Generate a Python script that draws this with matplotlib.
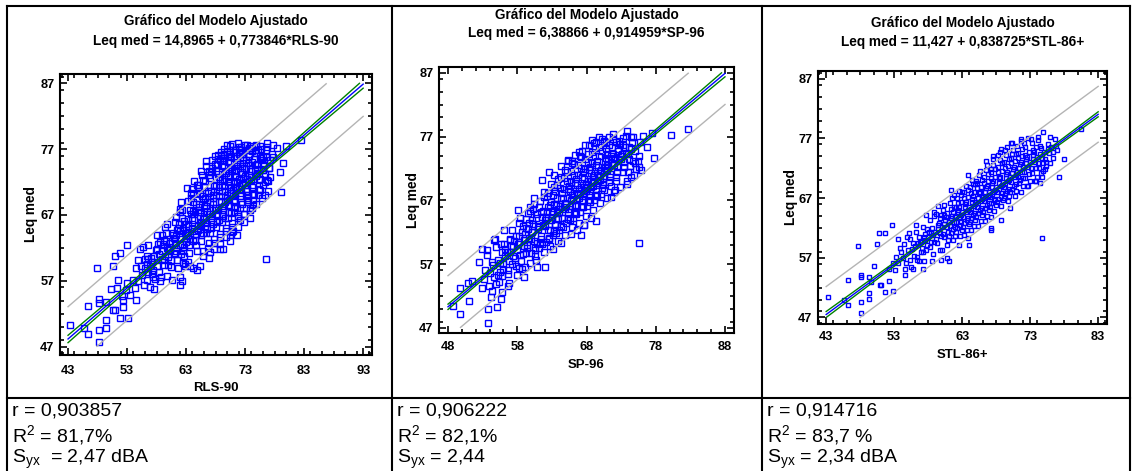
import numpy as np
import matplotlib
matplotlib.use('Agg')
import matplotlib.pyplot as plt
from matplotlib.lines import Line2D
from matplotlib.ticker import MultipleLocator

plt.rcParams['font.family'] = ['Liberation Sans', 'DejaVu Sans']
plt.rcParams['mathtext.fontset'] = 'custom'
plt.rcParams['mathtext.rm'] = 'Liberation Sans'
plt.rcParams['mathtext.it'] = 'Liberation Sans:italic'
plt.rcParams['mathtext.bf'] = 'Liberation Sans:bold'

# ---------------- data ----------------
titles = ["Leq med = 14,8965 + 0,773846*RLS-90",
          "Leq med = 6,38866 + 0,914959*SP-96",
          "Leq med = 11,427 + 0,838725*STL-86+"]
xlabels = ["RLS-90", "SP-96", "STL-86+"]
ylabel = "Leq med"
intercepts = [14.8965, 6.38866, 11.427]
slopes = [0.773846, 0.914959, 0.838725]
pred_halfwidth = [4.9, 4.88, 4.68]
conf_halfwidth_mid = [0.15, 0.15, 0.15]
conf_halfwidth_end = [0.62, 0.55, 0.5]
x_ticks = [[43, 53, 63, 73, 83, 93], [48, 58, 68, 78, 88], [43, 53, 63, 73, 83]]
y_ticks = [47, 57, 67, 77, 87]
stats_r = ["r = 0,903857", "r = 0,906222", "r = 0,914716"]
stats_R2 = [r"R$^{\mathregular{2}}$ = 81,7%", r"R$^{\mathregular{2}}$ = 82,1%", r"R$^{\mathregular{2}}$ = 83,7 %"]
stats_S = [r"S$_{\mathregular{yx}}$  = 2,47 dBA", r"S$_{\mathregular{yx}}$ = 2,44", r"S$_{\mathregular{yx}}$ = 2,34 dBA"]

rls90_leq = [
    (43.4, 50.3), (45.7, 49.8), (46.4, 49.0), (46.4, 53.2), (47.9, 58.9), (48.2, 54.2), (48.2, 53.7),
    (48.2, 49.6), (48.2, 47.7), (49.4, 53.8), (49.4, 51.1), (49.4, 49.9), (50.2, 55.7), (50.6, 59.2),
    (50.6, 52.5), (51.0, 52.5), (51.0, 60.8), (51.3, 55.9), (51.5, 57.2), (51.8, 61.2), (51.8, 51.4),
    (53.2, 51.4), (52.3, 53.1), (52.3, 54.1), (52.2, 54.7), (53.0, 62.4), (53.0, 56.6), (52.9, 55.6),
    (53.5, 54.8), (54.5, 54.1), (54.3, 55.9), (54.0, 57.1), (54.6, 58.9), (54.9, 60.2), (55.2, 61.9),
    (55.7, 62.2), (56.6, 62.4), (56.3, 60.7), (56.9, 59.2), (57.4, 57.6), (58.0, 64.0), (58.9, 64.0),
    (59.3, 63.2), (59.7, 65.7), (60.3, 62.7), (61.1, 66.0), (62.0, 67.5), (62.4, 64.7), (62.4, 59.7),
    (62.0, 57.6), (62.0, 56.4), (62.3, 56.9), (62.8, 59.2), (63.4, 59.9), (64.0, 70.9), (64.1, 58.9),
    (65.4, 59.2), (65.9, 60.7), (67.1, 61.4), (68.8, 61.9), (69.2, 61.8), (70.5, 63.0), (70.5, 64.0),
    (71.0, 64.5), (72.2, 66.2), (74.4, 68.5), (76.4, 70.0), (79.0, 70.5), (76.5, 60.3),
    (65.3, 70.2), (68.8, 75.3), (69.5, 75.3), (70.5, 75.1), (71.9, 76.3), (72.5, 76.6), (73.6, 77.1),
    (74.2, 76.7), (74.9, 77.4), (75.6, 77.5), (76.7, 78.0), (77.7, 77.6), (78.4, 77.1), (80.0, 77.4),
    (82.4, 78.4), (79.4, 74.9), (78.9, 73.5), (77.0, 74.1), (76.1, 75.8), (77.8, 75.8), (76.7, 72.3),
    (56.1, 58.9), (56.4, 57.1), (56.6, 60.3), (56.9, 56.0), (56.3, 59.6),
    (57.2, 58.1), (57.5, 60.8), (57.8, 57.3), (57.3, 59.9), (57.9, 61.7), (57.6, 55.8),
    (58.1, 59.2), (58.4, 61.0), (58.7, 57.6), (58.2, 62.6), (58.9, 60.3), (58.5, 56.9),
    (59.0, 61.5), (59.3, 59.4), (59.6, 63.1), (59.8, 57.8), (59.2, 60.2), (59.7, 62.0), (59.4, 65.1),
    (60.0, 60.6), (60.3, 62.8), (60.5, 59.1), (60.8, 64.2), (60.2, 61.7), (60.6, 57.2), (60.9, 63.5),
    (61.1, 61.3), (61.3, 63.9), (61.5, 60.2), (61.8, 65.6), (61.2, 62.8), (61.6, 58.9), (61.9, 67.9), (61.4, 64.7),
    (62.0, 63.4), (62.2, 61.1), (62.5, 65.0), (62.8, 59.6), (62.3, 66.5), (62.6, 62.2), (62.9, 64.2), (62.1, 69.0), (62.7, 60.8),
    (63.0, 62.9), (63.3, 65.4), (63.5, 61.3), (63.8, 67.2), (63.1, 64.3), (63.6, 59.3), (63.9, 69.6), (63.4, 66.4), (63.7, 63.4), (63.2, 71.1),
    (64.0, 65.0), (64.2, 63.0), (64.5, 67.5), (64.8, 61.5), (64.1, 68.9), (64.6, 64.1), (64.9, 70.3), (64.3, 66.3), (64.7, 62.4), (64.4, 72.2), (64.8, 58.6),
    (65.0, 64.7), (65.3, 66.9), (65.5, 63.0), (65.8, 69.4), (65.1, 71.5), (65.6, 65.8), (65.9, 61.6), (65.2, 68.2), (65.7, 73.0), (65.4, 67.5), (65.8, 64.3),
    (66.0, 66.6), (66.3, 64.2), (66.5, 69.0), (66.8, 62.7), (66.1, 71.3), (66.6, 67.6), (66.9, 73.6), (66.2, 65.4), (66.7, 70.4), (66.4, 74.5), (66.8, 60.4), (66.3, 68.3),
    (67.0, 67.1), (67.3, 65.0), (67.5, 70.0), (67.8, 63.4), (67.1, 72.6), (67.6, 68.7), (67.9, 74.8), (67.2, 66.2), (67.7, 71.4), (67.4, 75.4), (67.8, 61.9), (67.5, 69.5), (67.0, 64.2),
    (68.0, 68.0), (68.3, 66.0), (68.5, 71.2), (68.8, 64.1), (68.1, 73.7), (68.6, 69.9), (68.9, 75.9), (68.2, 67.0), (68.7, 72.5), (68.4, 76.1), (68.8, 62.6), (68.5, 70.6), (68.1, 65.2), (68.3, 74.6),
    (69.0, 69.0), (69.3, 66.9), (69.5, 72.1), (69.8, 65.0), (69.1, 74.4), (69.6, 70.6), (69.9, 76.5), (69.2, 67.8), (69.7, 73.3), (69.4, 77.0), (69.8, 63.6), (69.5, 71.4), (69.1, 65.9), (69.3, 75.2), (69.6, 68.9),
    (70.0, 69.6), (70.3, 67.5), (70.5, 72.8), (70.8, 65.8), (70.1, 75.0), (70.6, 71.2), (70.9, 76.9), (70.2, 68.5), (70.7, 74.0), (70.4, 77.5), (70.8, 64.4), (70.5, 70.3), (70.1, 66.6), (70.3, 73.6), (70.6, 75.8),
    (71.0, 70.4), (71.3, 68.2), (71.5, 73.6), (71.8, 66.5), (71.1, 75.7), (71.6, 72.0), (71.9, 77.3), (71.2, 69.3), (71.7, 74.7), (71.4, 76.5), (71.8, 65.2), (71.5, 71.1), (71.1, 67.4), (71.3, 72.8), (71.6, 63.9),
    (72.0, 71.0), (72.3, 68.9), (72.5, 74.2), (72.8, 67.2), (72.1, 76.3), (72.6, 72.6), (72.9, 77.6), (72.2, 69.9), (72.7, 75.4), (72.4, 73.5), (72.8, 65.9), (72.5, 71.8), (72.1, 68.0), (72.3, 76.9),
    (73.0, 71.6), (73.3, 69.6), (73.5, 74.9), (73.8, 67.8), (73.1, 76.8), (73.6, 73.1), (73.9, 77.4), (73.2, 70.6), (73.7, 75.9), (73.4, 72.4), (73.8, 66.6), (73.5, 68.9), (73.1, 74.0),
    (74.0, 72.3), (74.3, 70.2), (74.5, 75.5), (74.8, 68.6), (74.1, 77.1), (74.6, 73.8), (74.9, 76.4), (74.2, 71.3), (74.7, 74.6), (74.4, 69.2), (74.8, 72.9),
    (75.0, 73.2), (75.3, 71.0), (75.5, 76.0), (75.8, 69.5), (75.1, 74.7), (75.6, 72.4), (75.9, 75.3), (75.2, 70.0), (75.7, 77.0),
    (76.0, 73.8), (76.3, 72.0), (76.5, 75.8), (76.8, 70.6), (76.2, 74.9), (76.6, 76.9), (76.1, 71.5),
    (77.0, 74.1), (77.3, 72.7), (77.6, 76.2), (77.2, 75.3),
    (60.15, 62.2), (60.45, 60.1), (60.75, 63.9), (60.95, 61.0),
    (61.05, 63.3), (61.35, 61.6), (61.65, 65.0), (61.95, 62.5), (61.25, 66.7),
    (62.05, 64.6), (62.35, 62.6), (62.65, 66.1), (62.95, 63.5), (62.25, 67.8), (62.55, 61.5),
    (63.05, 65.6), (63.35, 63.9), (63.65, 67.8), (63.95, 64.8), (63.25, 69.1), (63.55, 62.5), (63.85, 70.4),
    (64.05, 66.6), (64.35, 64.6), (64.65, 68.6), (64.95, 65.5), (64.25, 70.2), (64.55, 63.2), (64.85, 71.5), (64.15, 67.6),
    (65.05, 67.4), (65.35, 65.3), (65.65, 69.9), (65.95, 66.4), (65.25, 71.1), (65.55, 64.0), (65.85, 72.3), (65.15, 68.6), (65.45, 73.6),
    (66.05, 68.0), (66.35, 66.0), (66.65, 70.6), (66.95, 67.2), (66.25, 72.2), (66.55, 64.8), (66.85, 73.0), (66.15, 69.5), (66.45, 75.2), (66.75, 62.0),
    (67.05, 69.0), (67.35, 66.8), (67.65, 71.6), (67.95, 68.0), (67.25, 73.5), (67.55, 65.6), (67.85, 76.0), (67.15, 70.6), (67.45, 74.1), (67.75, 62.8),
    (68.05, 70.0), (68.35, 67.7), (68.65, 72.8), (68.95, 69.1), (68.25, 74.8), (68.55, 66.3), (68.85, 76.6), (68.15, 71.6), (68.45, 75.5), (68.75, 63.6), (68.35, 73.2),
    (69.05, 70.7), (69.35, 68.4), (69.65, 73.7), (69.95, 70.0), (69.25, 75.6), (69.55, 66.5), (69.85, 77.6), (69.15, 72.5), (69.45, 76.2), (69.75, 64.6), (69.35, 74.4), (69.05, 67.2),
    (70.05, 71.5), (70.35, 69.2), (70.65, 74.3), (70.95, 70.8), (70.25, 76.3), (70.55, 67.3), (70.85, 77.8), (70.15, 73.1), (70.45, 76.0), (70.75, 65.2), (70.35, 72.0), (70.05, 68.3),
    (71.05, 72.1), (71.35, 70.0), (71.65, 75.0), (71.95, 71.4), (71.25, 76.9), (71.55, 68.0), (71.85, 77.9), (71.15, 73.9), (71.45, 74.4), (71.75, 66.8), (71.35, 71.3), (71.05, 69.0),
    (72.05, 72.5), (72.35, 70.3), (72.65, 75.8), (72.95, 72.0), (72.25, 77.3), (72.55, 68.6), (72.85, 74.1), (72.15, 74.8), (72.45, 76.2), (72.75, 67.1), (72.35, 73.2),
    (73.05, 72.9), (73.35, 71.0), (73.65, 76.3), (73.95, 72.8), (73.25, 77.6), (73.55, 69.3), (73.85, 74.6), (73.15, 75.3), (73.45, 70.1), (73.75, 68.0),
    (74.05, 73.6), (74.35, 71.6), (74.65, 76.8), (74.95, 73.4), (74.25, 75.0), (74.55, 70.0), (74.85, 77.6), (74.15, 68.0),
    (75.05, 74.0), (75.35, 72.3), (75.65, 75.6), (75.95, 73.9), (75.25, 76.8), (75.55, 70.8),
    (76.05, 74.6), (76.35, 73.2), (76.65, 77.3), (76.95, 72.2),
    (57.05, 60.4), (57.45, 58.6), (58.05, 61.9), (58.35, 58.4), (58.65, 62.9), (59.05, 62.6), (59.35, 60.7),
    (59.65, 64.2), (59.95, 59.4), (56.55, 58.4), (56.05, 60.3), (55.55, 57.9), (55.35, 59.3), (54.85, 57.0), (55.85, 56.3),
]

sp96_leq = [
    (48.7, 50.4), (49.7, 53.2), (49.7, 49.2), (50.9, 54.1), (51.0, 51.2), (51.5, 54.4), (52.5, 57.4),
    (52.9, 59.4), (52.9, 53.2), (53.2, 54.7), (53.4, 56.1), (53.7, 59.2), (53.8, 49.9), (53.8, 47.8),
    (53.9, 53.5), (54.3, 52.8), (54.5, 56.8), (54.6, 60.8), (54.8, 61.0), (55.1, 50.2), (55.6, 51.5),
    (55.8, 52.6), (55.8, 55.2), (56.1, 62.4), (56.6, 56.0), (56.8, 54.1), (56.9, 60.8), (58.1, 65.5),
    (59.0, 55.0), (58.3, 56.4), (60.8, 56.5), (62.0, 56.5), (63.1, 59.4), (64.3, 60.3), (67.2, 61.5),
    (67.6, 63.1), (69.3, 63.7), (75.6, 60.3), (61.6, 70.2), (60.4, 67.4), (59.9, 66.0),
    (62.6, 71.4), (65.4, 73.1), (65.9, 73.2), (67.1, 73.9), (69.1, 76.0), (70.5, 76.3), (71.8, 77.4),
    (73.9, 77.9), (74.4, 77.0), (76.1, 77.1), (77.4, 77.6), (80.2, 77.2), (82.6, 78.2), (77.8, 73.6),
    (76.8, 75.3), (75.8, 71.7), (75.6, 72.2),
    (54.1, 55.6), (54.4, 57.3), (54.9, 53.9), (53.6, 58.5), (54.2, 51.9), (55.0, 59.7),
    (55.2, 57.6), (55.5, 55.8), (55.8, 58.9), (55.3, 54.2), (55.7, 60.2),
    (56.0, 57.0), (56.3, 59.4), (56.6, 55.5), (56.9, 61.0), (56.2, 58.3), (56.7, 53.6),
    (57.0, 58.9), (57.3, 57.0), (57.6, 60.7), (57.9, 55.3), (57.2, 62.3), (57.7, 58.0), (57.4, 59.8),
    (58.0, 59.2), (58.3, 61.4), (58.6, 57.5), (58.9, 63.0), (58.2, 60.4), (58.7, 56.2), (58.4, 64.2), (58.8, 58.6),
    (59.0, 60.8), (59.3, 58.7), (59.6, 62.5), (59.9, 57.1), (59.2, 64.0), (59.7, 61.1), (59.4, 59.5), (59.8, 65.3), (59.1, 56.6),
    (60.0, 61.0), (60.3, 63.3), (60.6, 59.2), (60.9, 64.9), (60.2, 62.0), (60.7, 57.6), (60.4, 66.4), (60.8, 60.3), (60.1, 63.9), (60.5, 58.3),
    (61.0, 62.5), (61.3, 60.3), (61.6, 64.4), (61.9, 58.9), (61.2, 66.0), (61.7, 63.1), (61.4, 61.4), (61.8, 67.5), (61.1, 59.6), (61.5, 65.2),
    (62.0, 63.0), (62.3, 65.2), (62.6, 61.1), (62.9, 66.8), (62.2, 64.2), (62.7, 59.8), (62.4, 68.2), (62.8, 62.4), (62.1, 60.5), (62.5, 66.0), (62.9, 63.9),
    (63.0, 64.4), (63.3, 62.2), (63.6, 66.3), (63.9, 60.7), (63.2, 67.9), (63.7, 65.0), (63.4, 63.3), (63.8, 69.4), (63.1, 61.5), (63.5, 68.5), (63.9, 64.1), (63.3, 71.0),
    (64.0, 65.1), (64.3, 63.0), (64.6, 67.4), (64.9, 61.6), (64.2, 69.0), (64.7, 66.0), (64.4, 64.2), (64.8, 70.5), (64.1, 62.3), (64.5, 68.2), (64.9, 65.6), (64.3, 72.4),
    (65.0, 66.4), (65.3, 64.1), (65.6, 68.5), (65.9, 62.8), (65.2, 70.1), (65.7, 67.0), (65.4, 65.2), (65.8, 71.6), (65.1, 63.4), (65.5, 69.3), (65.9, 66.1), (65.3, 73.3), (65.7, 61.7),
    (66.0, 67.0), (66.3, 65.0), (66.6, 69.4), (66.9, 63.5), (66.2, 71.0), (66.7, 68.0), (66.4, 66.1), (66.8, 72.6), (66.1, 64.2), (66.5, 70.4), (66.9, 67.3), (66.3, 74.1), (66.6, 62.4),
    (67.0, 68.0), (67.3, 66.0), (67.6, 70.3), (67.9, 64.5), (67.2, 72.0), (67.7, 69.1), (67.4, 67.0), (67.8, 73.5), (67.1, 65.1), (67.5, 71.4), (67.9, 68.4), (67.3, 74.8), (67.6, 63.2),
    (68.0, 69.0), (68.3, 67.0), (68.6, 71.3), (68.9, 65.5), (68.2, 73.0), (68.7, 70.0), (68.4, 67.8), (68.8, 74.5), (68.1, 66.1), (68.5, 72.2), (68.9, 69.3), (68.3, 75.6), (68.6, 64.3),
    (69.0, 69.8), (69.3, 67.9), (69.6, 72.3), (69.9, 66.6), (69.2, 74.0), (69.7, 71.0), (69.4, 68.8), (69.8, 75.3), (69.1, 67.1), (69.5, 73.2), (69.9, 70.2), (69.3, 76.2),
    (70.0, 70.8), (70.3, 68.9), (70.6, 73.1), (70.9, 67.4), (70.2, 74.8), (70.7, 72.0), (70.4, 69.8), (70.8, 76.1), (70.1, 68.0), (70.5, 71.4), (70.9, 74.2),
    (71.0, 71.7), (71.3, 69.8), (71.6, 74.0), (71.9, 68.3), (71.2, 75.6), (71.7, 72.8), (71.4, 70.6), (71.8, 76.6), (71.1, 73.4), (71.5, 67.5),
    (72.0, 72.5), (72.3, 70.6), (72.6, 74.8), (72.9, 69.1), (72.2, 76.2), (72.7, 73.4), (72.4, 71.5), (72.8, 75.8), (72.1, 68.6),
    (73.0, 73.4), (73.3, 71.5), (73.6, 75.4), (73.9, 70.0), (73.2, 76.8), (73.7, 74.3), (73.4, 72.2), (73.8, 69.6),
    (74.0, 74.2), (74.3, 72.4), (74.6, 76.1), (74.9, 71.0), (74.2, 75.3), (74.7, 73.1), (74.4, 70.6),
    (75.0, 74.8), (75.4, 73.2), (75.7, 76.2), (75.2, 71.9), (75.6, 74.0),
    (57.15, 59.8), (57.45, 58.2), (57.75, 61.4), (57.85, 56.7),
    (58.15, 60.2), (58.45, 58.4), (58.75, 62.1), (58.95, 59.9), (58.25, 63.4),
    (59.15, 61.7), (59.45, 60.0), (59.75, 63.5), (59.95, 58.8), (59.25, 62.6), (59.55, 65.0),
    (60.15, 62.0), (60.45, 60.6), (60.75, 64.3), (60.95, 62.8), (60.25, 65.6), (60.55, 59.6),
    (61.15, 62.9), (61.45, 61.0), (61.75, 65.3), (61.95, 63.9), (61.25, 66.9), (61.55, 60.1), (61.85, 68.3),
    (62.15, 64.4), (62.45, 62.3), (62.75, 66.3), (62.95, 64.8), (62.25, 67.6), (62.55, 60.9), (62.85, 69.5),
    (63.15, 65.1), (63.45, 63.1), (63.75, 67.3), (63.95, 65.6), (63.25, 69.1), (63.55, 61.9), (63.85, 70.4), (63.35, 66.4),
    (64.15, 66.1), (64.45, 64.2), (64.75, 68.8), (64.95, 66.6), (64.25, 70.7), (64.55, 62.8), (64.85, 71.7), (64.35, 67.4),
    (65.15, 67.3), (65.45, 65.6), (65.75, 69.8), (65.95, 67.9), (65.25, 71.5), (65.55, 63.9), (65.85, 72.9), (65.35, 68.7),
    (66.15, 68.2), (66.45, 66.3), (66.75, 70.9), (66.95, 68.8), (66.25, 72.7), (66.55, 64.8), (66.85, 74.6), (66.35, 69.7), (66.65, 67.2),
    (67.15, 69.1), (67.45, 67.6), (67.75, 71.9), (67.95, 69.6), (67.25, 73.8), (67.55, 65.9), (67.85, 75.6), (67.35, 70.7), (67.65, 68.2),
    (68.15, 70.1), (68.45, 68.5), (68.75, 72.9), (68.95, 70.6), (68.25, 74.3), (68.55, 66.7), (68.85, 76.4), (68.35, 71.8), (68.65, 69.1),
    (69.15, 70.9), (69.45, 69.4), (69.75, 73.9), (69.95, 71.6), (69.25, 75.2), (69.55, 67.7), (69.85, 76.9), (69.35, 72.6), (69.65, 70.1),
    (70.15, 71.7), (70.45, 70.5), (70.75, 75.0), (70.95, 72.6), (70.25, 76.6), (70.55, 68.6), (70.85, 73.6), (70.35, 69.4),
    (71.15, 72.6), (71.45, 71.2), (71.75, 75.3), (71.95, 73.6), (71.25, 77.0), (71.55, 69.3), (71.85, 74.3),
    (72.15, 73.5), (72.45, 72.2), (72.75, 76.3), (72.95, 74.0), (72.25, 70.1), (72.55, 75.0),
    (73.15, 74.2), (73.45, 73.0), (73.75, 77.1), (73.95, 71.5), (73.25, 75.6),
    (74.15, 73.4), (74.45, 75.0), (74.75, 76.9), (74.95, 72.9),
    (55.45, 57.2), (55.95, 56.3), (56.45, 58.9), (56.15, 60.1), (55.15, 55.3), (54.65, 55.0), (56.85, 57.5),
]

stl86_leq = [
    (43.2, 50.5), (45.6, 49.9), (46.2, 49.1), (46.2, 53.3), (47.7, 59.0), (48.1, 54.1), (48.1, 53.8),
    (48.1, 49.6), (48.1, 47.8), (49.3, 53.8), (49.3, 51.1), (49.3, 50.1), (49.6, 53.0), (50.1, 55.7),
    (50.5, 59.3), (50.8, 61.1), (50.9, 52.4), (51.1, 52.4), (51.7, 51.3), (51.7, 61.1), (52.3, 53.1),
    (52.2, 55.2), (52.7, 62.5), (52.8, 51.4), (52.8, 56.2), (53.2, 57.2), (53.6, 60.1), (54.0, 57.9),
    (54.6, 54.1), (54.6, 55.1), (54.9, 60.4), (55.2, 61.2), (55.5, 55.4), (55.7, 55.1), (56.2, 62.5),
    (56.4, 56.6), (57.2, 55.2), (57.4, 56.4), (57.7, 64.2), (58.8, 64.0), (58.6, 56.5), (59.5, 65.7),
    (59.9, 56.6), (60.4, 65.9), (60.8, 56.9), (61.1, 56.5), (62.1, 65.5), (61.8, 67.6), (62.6, 59.2),
    (64.0, 59.2), (63.8, 60.3), (67.2, 62.0), (67.2, 61.7), (68.7, 63.4), (70.1, 65.3), (74.8, 60.3),
    (74.4, 69.6), (61.3, 68.3), (63.0, 68.1), (63.8, 70.9), (65.0, 69.8), (67.2, 71.9), (68.7, 75.2),
    (68.9, 72.9), (70.2, 76.3), (70.4, 74.4), (71.6, 76.5), (73.1, 76.9), (74.1, 77.3), (74.9, 78.0),
    (75.9, 77.3), (77.0, 75.1), (77.3, 70.6), (78.0, 73.5), (80.5, 78.5), (75.3, 72.3), (74.6, 71.2),
    (73.8, 69.8), (72.6, 69.0),
    (53.5, 56.1), (53.9, 58.6), (54.3, 57.0), (54.4, 59.3), (54.8, 56.2), (53.1, 55.0),
    (55.1, 58.3), (55.4, 56.6), (55.7, 59.5), (55.3, 60.1), (55.9, 57.3),
    (56.0, 58.9), (56.3, 57.2), (56.6, 60.4), (56.9, 58.0), (56.2, 61.3), (56.7, 56.4),
    (57.0, 59.6), (57.3, 57.9), (57.6, 61.0), (57.9, 59.1), (57.2, 62.2), (57.7, 58.3), (57.4, 60.4),
    (58.0, 60.5), (58.3, 58.8), (58.6, 62.0), (58.9, 59.7), (58.2, 63.3), (58.7, 57.7), (58.4, 61.1), (58.8, 64.6),
    (59.0, 61.4), (59.3, 59.5), (59.6, 62.8), (59.9, 60.6), (59.2, 64.3), (59.7, 58.3), (59.4, 61.9), (59.8, 63.7),
    (60.0, 62.1), (60.3, 60.4), (60.6, 63.8), (60.9, 61.3), (60.2, 65.0), (60.7, 59.1), (60.4, 62.7), (60.8, 64.5), (60.1, 58.3),
    (61.0, 63.0), (61.3, 61.2), (61.6, 64.6), (61.9, 62.1), (61.2, 66.1), (61.7, 59.9), (61.4, 63.6), (61.8, 65.5), (61.1, 60.6), (61.5, 67.0),
    (62.0, 63.8), (62.3, 62.0), (62.6, 65.5), (62.9, 63.0), (62.2, 67.0), (62.7, 60.7), (62.4, 64.6), (62.8, 66.3), (62.1, 61.4), (62.5, 68.2), (62.9, 64.2),
    (63.0, 64.7), (63.3, 62.9), (63.6, 66.4), (63.9, 63.7), (63.2, 68.0), (63.7, 61.6), (63.4, 65.5), (63.8, 67.2), (63.1, 62.2), (63.5, 69.1), (63.9, 65.0), (63.3, 60.8),
    (64.0, 65.5), (64.3, 63.7), (64.6, 67.3), (64.9, 64.5), (64.2, 68.8), (64.7, 62.4), (64.4, 66.3), (64.8, 68.0), (64.1, 63.0), (64.5, 70.0), (64.9, 66.0), (64.3, 61.7), (64.6, 69.3),
    (65.0, 66.4), (65.3, 64.5), (65.6, 68.1), (65.9, 65.3), (65.2, 69.6), (65.7, 63.2), (65.4, 67.1), (65.8, 68.9), (65.1, 63.9), (65.5, 70.9), (65.9, 66.8), (65.3, 62.4), (65.6, 71.5),
    (66.0, 67.2), (66.3, 65.3), (66.6, 69.0), (66.9, 66.1), (66.2, 70.5), (66.7, 64.0), (66.4, 68.0), (66.8, 69.8), (66.1, 64.7), (66.5, 71.7), (66.9, 67.6), (66.3, 63.1), (66.6, 72.6),
    (67.0, 68.0), (67.3, 66.1), (67.6, 69.8), (67.9, 66.9), (67.2, 71.3), (67.7, 64.8), (67.4, 68.8), (67.8, 70.6), (67.1, 65.5), (67.5, 72.6), (67.9, 68.4), (67.3, 63.8), (67.6, 73.5),
    (68.0, 68.9), (68.3, 66.9), (68.6, 70.6), (68.9, 67.8), (68.2, 72.2), (68.7, 65.6), (68.4, 69.6), (68.8, 71.5), (68.1, 66.3), (68.5, 73.4), (68.9, 69.2), (68.3, 74.3),
    (69.0, 69.7), (69.3, 67.8), (69.6, 71.4), (69.9, 68.6), (69.2, 73.0), (69.7, 66.5), (69.4, 70.4), (69.8, 72.4), (69.1, 67.1), (69.5, 74.2), (69.9, 70.0), (69.3, 75.1),
    (70.0, 70.5), (70.3, 68.6), (70.6, 72.2), (70.9, 69.4), (70.2, 73.8), (70.7, 67.3), (70.4, 71.2), (70.8, 73.2), (70.1, 68.0), (70.5, 75.0), (70.9, 70.8),
    (71.0, 71.4), (71.3, 69.5), (71.6, 73.0), (71.9, 70.3), (71.2, 74.6), (71.7, 68.1), (71.4, 72.0), (71.8, 74.0), (71.1, 75.8), (71.5, 70.0),
    (72.0, 72.2), (72.3, 70.4), (72.6, 73.9), (72.9, 71.1), (72.2, 75.5), (72.7, 69.0), (72.4, 72.8), (72.8, 74.8), (72.1, 76.3),
    (73.0, 73.1), (73.3, 71.2), (73.6, 74.7), (73.9, 72.0), (73.2, 76.2), (73.7, 69.8), (73.4, 73.6), (73.8, 75.6),
    (74.0, 73.9), (74.3, 72.0), (74.6, 75.4), (74.9, 72.8), (74.2, 76.8), (74.7, 70.6), (74.4, 74.4),
    (75.0, 74.8), (75.3, 73.0), (75.6, 76.0), (75.2, 71.9), (75.8, 74.5),
    (76.1, 75.6), (76.4, 73.8), (76.7, 76.9),
    (58.15, 61.3), (58.45, 59.6), (58.75, 60.8), (59.15, 60.2), (59.45, 62.5), (59.75, 61.1), (59.95, 64.1),
    (60.15, 61.0), (60.45, 63.3), (60.75, 62.2), (60.95, 59.9), (60.35, 64.2),
    (61.15, 62.3), (61.45, 64.0), (61.75, 63.0), (61.95, 60.7), (61.35, 65.1), (61.65, 61.8),
    (62.15, 63.0), (62.45, 65.0), (62.75, 63.9), (62.95, 61.7), (62.35, 66.2), (62.65, 62.5), (62.85, 67.5),
    (63.15, 63.9), (63.45, 66.0), (63.75, 64.7), (63.95, 62.6), (63.25, 67.1), (63.65, 63.3), (63.85, 68.3),
    (64.15, 64.7), (64.45, 66.9), (64.75, 65.6), (64.95, 63.4), (64.25, 67.9), (64.65, 64.2), (64.85, 69.3), (64.35, 65.1),
    (65.15, 65.5), (65.45, 67.8), (65.75, 66.5), (65.95, 64.2), (65.25, 68.7), (65.65, 65.0), (65.85, 70.1), (65.35, 66.1),
    (66.15, 66.5), (66.45, 68.7), (66.75, 67.3), (66.95, 65.0), (66.25, 69.6), (66.65, 65.8), (66.85, 71.0), (66.35, 67.0), (66.55, 73.2),
    (67.15, 67.2), (67.45, 69.5), (67.75, 68.1), (67.95, 65.8), (67.25, 70.4), (67.65, 66.6), (67.85, 71.9), (67.35, 67.7), (67.55, 74.0),
    (68.15, 68.1), (68.45, 70.3), (68.75, 69.0), (68.95, 66.6), (68.25, 71.3), (68.65, 67.4), (68.85, 72.8), (68.35, 68.5), (68.55, 74.8),
    (69.15, 68.9), (69.45, 71.1), (69.75, 69.8), (69.95, 67.4), (69.25, 72.1), (69.65, 68.2), (69.85, 73.6), (69.35, 69.3), (69.55, 75.6),
    (70.15, 69.7), (70.45, 71.9), (70.75, 70.6), (70.95, 68.2), (70.25, 72.9), (70.65, 69.0), (70.85, 74.4), (70.35, 76.2),
    (71.15, 70.5), (71.45, 72.7), (71.75, 71.4), (71.95, 69.0), (71.25, 73.7), (71.65, 76.9), (71.85, 75.2),
    (72.15, 71.3), (72.45, 73.5), (72.75, 72.2), (72.95, 69.8), (72.25, 74.3), (72.65, 77.0),
    (73.15, 72.1), (73.45, 74.3), (73.75, 73.0), (73.95, 70.6), (73.35, 75.1),
    (74.15, 72.9), (74.45, 75.8), (74.75, 73.8), (74.95, 71.5),
    (75.15, 73.6), (75.55, 75.3), (75.95, 72.9), (76.35, 74.8), (76.85, 75.7),
    (56.45, 59.4), (57.15, 58.7), (57.55, 59.9), (57.85, 61.8), (56.85, 59.6), (55.65, 58.4),
]

datasets = [rls90_leq, sp96_leq, stl86_leq]

# ---------------- layout (pixels) ----------------
W, H = 1132, 471
fig = plt.figure(figsize=(W / 100, H / 100), dpi=100)

axes_px = [(60, 74, 372, 355), (439, 67, 734, 333), (818, 71, 1107, 324)]
xlims = [(41.64, 94.5), (46.7, 89.3), (41.8, 84.3)]
ylims = [(45.74, 88.4), (46.2, 87.9), (45.9, 88.3)]
title_y = [(21.5, 41.5), (15.0, 33.5), (22.5, 42.0)]
ylabel_x = [31.5, 413.0, 791.0]
ticklab_gap = [15, 14, 13]
xlabel_gap = [33, 32, 31]
marker_size = [4.2, 4.2, 2.3]
marker_ew = [1.0, 1.0, 1.0]
col_left = [12, 397, 767]

BLUE = '#0000FF'
GREEN = '#008000'
GRAY = '#B4B4B4'


def fx(px):
    return px / W


def fy(py):
    return 1 - py / H


def clip(y):
    y = y.copy()
    y[(y < 47) | (y > 87)] = np.nan
    return y


for i in range(3):
    l, t, r, b = axes_px[i]
    ax = fig.add_axes([l / W, 1 - b / H, (r - l) / W, (b - t) / H])
    pts = np.array(datasets[i])
    xs_d, ys_d = pts[:, 0], pts[:, 1]
    ax.plot(xs_d, ys_d, linestyle='none', marker='s', mfc='none', mec=BLUE,
            ms=marker_size[i], mew=marker_ew[i], zorder=2)

    x0, x1 = x_ticks[i][0], x_ticks[i][-1]
    xs = np.linspace(x0, x1, 400)
    fit = intercepts[i] + slopes[i] * xs
    xm = xs_d.mean()
    span = max(xm - x0, x1 - xm)
    cm, ce = conf_halfwidth_mid[i], conf_halfwidth_end[i]
    hw = np.sqrt(cm ** 2 + (ce ** 2 - cm ** 2) * ((xs - xm) / span) ** 2)

    ax.plot(xs, clip(fit + pred_halfwidth[i]), color=GRAY, lw=1.0, zorder=3)
    ax.plot(xs, clip(fit - pred_halfwidth[i]), color=GRAY, lw=1.0, zorder=3)
    ax.plot(xs, clip(fit + hw), color=GREEN, lw=1.0, zorder=4)
    ax.plot(xs, clip(fit - hw), color=GREEN, lw=1.0, zorder=4)
    ax.plot(xs, clip(fit), color=BLUE, lw=1.0, zorder=5)

    ax.set_xlim(*xlims[i])
    ax.set_ylim(*ylims[i])
    ax.set_xticks(x_ticks[i])
    ax.set_yticks(y_ticks)
    ax.xaxis.set_minor_locator(MultipleLocator(2))
    ax.yaxis.set_minor_locator(MultipleLocator(2))
    ax.tick_params(which='both', direction='in', top=True, right=True, width=1.2, colors='black')
    ax.tick_params(which='major', length=5)
    ax.tick_params(which='minor', length=3)
    ax.tick_params(axis='x', pad=ticklab_gap[i] - 8)
    ax.tick_params(axis='y', pad=4)
    for lab in ax.get_xticklabels() + ax.get_yticklabels():
        lab.set_fontweight('bold')
        lab.set_fontsize(9.2)
    for sp in ax.spines.values():
        sp.set_linewidth(1.5)

    hpx = b - t
    ax.set_xlabel(xlabels[i], fontsize=9.5, fontweight='bold')
    ax.xaxis.label.set_verticalalignment('center')
    ax.xaxis.set_label_coords(0.5, -xlabel_gap[i] / hpx)
    ax.set_ylabel(ylabel, fontsize=9.8, fontweight='bold')
    ax.yaxis.label.set_verticalalignment('center')
    ax.yaxis.set_label_coords(-(l - ylabel_x[i]) / (r - l), 0.5)

    cx = (l + r) / 2
    fig.text(fx(cx), fy(title_y[i][0]), "Gráfico del Modelo Ajustado", ha='center', va='center',
             fontsize=9.8, fontweight='bold')
    fig.text(fx(cx), fy(title_y[i][1]), titles[i], ha='center', va='center',
             fontsize=9.8, fontweight='bold')

    fig.text(fx(col_left[i]), fy(411), stats_r[i], ha='left', va='center', fontsize=14)
    fig.text(fx(col_left[i]), fy(435), stats_R2[i], ha='left', va='center', fontsize=14)
    fig.text(fx(col_left[i]), fy(459), stats_S[i], ha='left', va='center', fontsize=14)

# table borders
lw_tab = 1.5
for xv in [7, 391.7, 761.7, 1130]:
    fig.add_artist(Line2D([fx(xv), fx(xv)], [fy(5.5), fy(471)], color='black', lw=lw_tab))
for yv in [5.5, 397.5]:
    fig.add_artist(Line2D([fx(7), fx(1130)], [fy(yv), fy(yv)], color='black', lw=lw_tab))

fig.savefig('out.png', dpi=100)
